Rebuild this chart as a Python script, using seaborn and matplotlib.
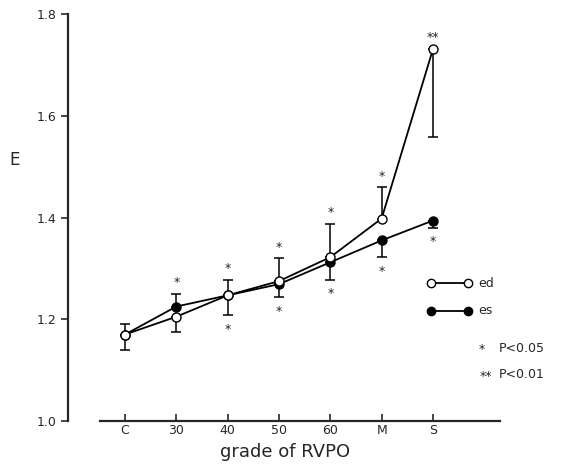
import numpy as np
import pandas as pd
import matplotlib
matplotlib.use("Agg")
import matplotlib.pyplot as plt
import seaborn as sns
from matplotlib.lines import Line2D

# ---- data ----
categories = ["C", "30", "40", "50", "60", "M", "S"]
ed_values = [1.170, 1.205, 1.247, 1.275, 1.322, 1.398, 1.731]
es_values = [1.170, 1.225, 1.247, 1.269, 1.312, 1.355, 1.394]
# end value of the one-sided error bar drawn for each point
ed_bar_end = [1.140, 1.175, 1.208, 1.320, 1.388, 1.459, 1.559]
es_bar_end = [1.190, 1.250, 1.278, 1.243, 1.278, 1.322, 1.380]
sig_above = ["", "*", "*", "*", "*", "*", "**"]
sig_below = ["", "", "*", "*", "*", "*", "*"]
y_ticks = [1.0, 1.2, 1.4, 1.6, 1.8]
y_tick_labels = ["1.0", "1.2", "1.4", "1.6", "1.8"]

sns.set_style("ticks")
plt.rcParams["font.family"] = ["DejaVu Sans"]

W, H = 568, 465
fig = plt.figure(figsize=(W / 100, H / 100), dpi=100)
ax = fig.add_axes([68 / W, 44 / H, 432 / W, 407 / H])

idx = np.arange(len(categories))
df = pd.DataFrame({
    "x": np.concatenate([idx, idx]),
    "E": ed_values + es_values,
    "series": ["ed"] * len(idx) + ["es"] * len(idx),
})

# error bars (one-sided)
for vals, ends in [(ed_values, ed_bar_end), (es_values, es_bar_end)]:
    v = np.array(vals)
    e = np.array(ends)
    lo = np.where(e < v, v - e, 0)
    hi = np.where(e > v, e - v, 0)
    ax.errorbar(idx, v, yerr=[lo, hi], fmt="none", ecolor="black",
                elinewidth=1.1, capsize=3.5, capthick=1.1, zorder=2)

sns.lineplot(data=df[df.series == "es"], x="x", y="E", ax=ax, color="black",
             lw=1.3, marker="o", markersize=6.5, markerfacecolor="black",
             markeredgecolor="black", markeredgewidth=1.0, zorder=3)
sns.lineplot(data=df[df.series == "ed"], x="x", y="E", ax=ax, color="black",
             lw=1.3, marker="o", markersize=6.5, markerfacecolor="white",
             markeredgecolor="black", markeredgewidth=1.0, zorder=4)

# significance stars
for i in idx:
    pts = [ed_values[i], es_values[i], ed_bar_end[i], es_bar_end[i]]
    if sig_above[i]:
        ax.annotate(sig_above[i], (i, max(pts)), xytext=(0, 8),
                    textcoords="offset points", ha="center", va="center",
                    fontsize=9)
    if sig_below[i]:
        ax.annotate(sig_below[i], (i, min(pts)), xytext=(0, -10),
                    textcoords="offset points", ha="center", va="center",
                    fontsize=9)

# axes styling
xmin = -57 / 51.33
ax.set_xlim(xmin, xmin + 432 / 51.33)
ax.set_ylim(1.0, 1.8)
ax.set_xticks(idx)
ax.set_xticklabels(categories, fontsize=9)
ax.set_yticks(y_ticks)
ax.set_yticklabels(y_tick_labels, fontsize=9)
ax.set_xlabel("")
ax.set_ylabel("")
for s in ["top", "right"]:
    ax.spines[s].set_visible(False)
ax.spines["left"].set_linewidth(1.6)
ax.spines["bottom"].set_linewidth(1.6)
ax.spines["left"].set_bounds(1.0, 1.8)
ax.spines["bottom"].set_bounds(-25 / 51.33, xmin + 432 / 51.33)
ax.tick_params(axis="x", direction="in", length=5, width=1.2, pad=2)
ax.tick_params(axis="y", direction="out", length=5, width=1.2, pad=3)

fig.text(15 / W, 1 - 160 / H, "E", fontsize=12, ha="center", va="center")
fig.text(285 / W, 1 - 452 / H, "grade of RVPO", fontsize=13, ha="center",
         va="center")

# legend
def fx(px):
    return px / W
def fy(py):
    return 1 - py / H
fig.add_artist(Line2D([fx(431), fx(468)], [fy(283), fy(283)], color="black",
                      lw=1.3, marker="o", markersize=6, markerfacecolor="white",
                      markeredgecolor="black", transform=fig.transFigure))
fig.text(fx(478), fy(283), "ed", fontsize=9, va="center")
fig.add_artist(Line2D([fx(431), fx(468)], [fy(311), fy(311)], color="black",
                      lw=1.3, marker="o", markersize=6, markerfacecolor="black",
                      markeredgecolor="black", transform=fig.transFigure))
fig.text(fx(478), fy(311), "es", fontsize=9, va="center")
fig.text(fx(482), fy(349), "*", fontsize=9, va="center", ha="center")
fig.text(fx(499), fy(348), "P<0.05", fontsize=9, va="center")
fig.text(fx(486), fy(376), "**", fontsize=9, va="center", ha="center")
fig.text(fx(499), fy(375), "P<0.01", fontsize=9, va="center")

fig.savefig("out.png", dpi=100)
